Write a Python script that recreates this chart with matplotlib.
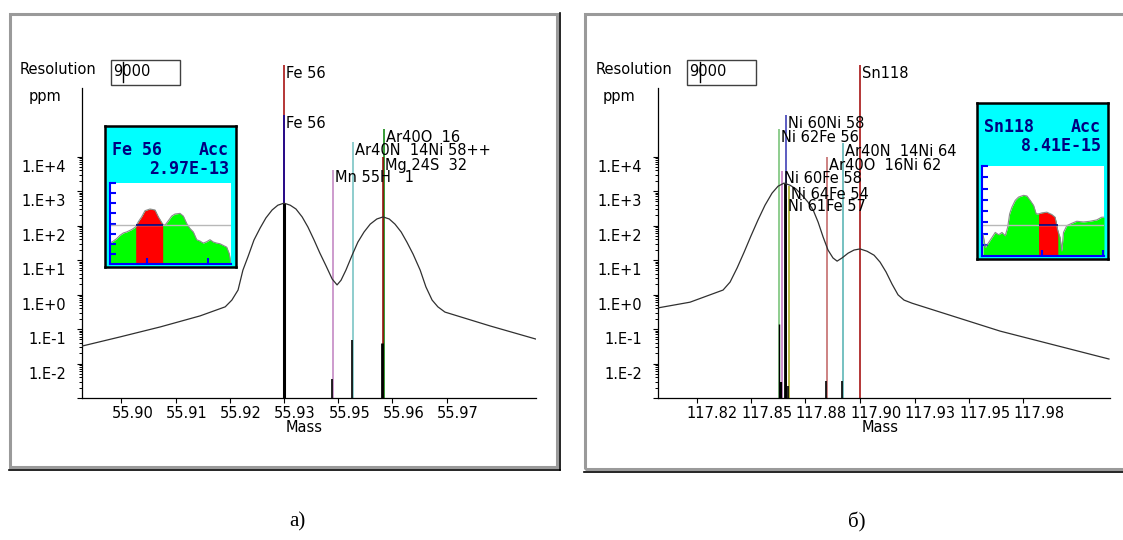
import matplotlib
matplotlib.use("Agg")
import matplotlib.pyplot as plt
from matplotlib.patches import Rectangle
from matplotlib.lines import Line2D
from matplotlib.transforms import ScaledTranslation
from matplotlib.ticker import FixedLocator, NullFormatter
import numpy as np

plt.rcParams['font.family'] = 'DejaVu Sans'
plt.rcParams['font.size'] = 10.5

W, H = 1123, 540

# ---------------- panel a) : Fe 56 ----------------
fe_mass = [55.8892, 55.8978, 55.9069, 55.9159, 55.9216, 55.9231, 55.9245, 55.9256, 55.9268,
           55.9281, 55.9295, 55.9308, 55.9322, 55.9335, 55.9349, 55.9363, 55.9376, 55.9390,
           55.9403, 55.9417, 55.9430, 55.9444, 55.9458, 55.9469, 55.9478, 55.9489, 55.9503,
           55.9516, 55.9530, 55.9544, 55.9559, 55.9573, 55.9587, 55.9600, 55.9614, 55.9627,
           55.9641, 55.9657, 55.9670, 55.9684, 55.9697, 55.9713, 55.9815, 55.9919]
fe_ppm = [0.032, 0.059, 0.115, 0.24, 0.44, 0.69, 1.35, 5.1, 13, 38, 85, 166, 282, 389, 447,
          389, 302, 178, 91, 38, 16, 6.8, 2.8, 1.9, 2.6, 5.1, 13.8, 33, 65, 110, 155, 178,
          155, 110, 65, 33, 14.8, 5.1, 1.66, 0.69, 0.44, 0.31, 0.123, 0.051]
fe_xlim = (55.8892, 55.9919)
fe_ticks = [55.8981, 55.9104, 55.9226, 55.9349, 55.9472, 55.9594, 55.9717]
fe_ticklabels = ['55.90', '55.91', '55.92', '55.93', '55.95', '55.96', '55.97']

fe_line_mass = [55.9349, 55.9349, 55.9460, 55.9504, 55.9575, 55.9573]
fe_line_top = [4.5e6, 1.6e5, 4100, 26000, 63000, 9700]
fe_line_labels = ['Fe 56', 'Fe 56', 'Mn 55H   1', 'Ar40N  14Ni 58++', 'Ar40O  16', 'Mg 24S  32']
fe_line_colors = ['#a00000', '#0000a0', '#c080c0', '#70c0c0', '#008000', '#900000']

fe_stick_mass = [55.9349, 55.9457, 55.9502, 55.9571]
fe_stick_ppm = [447, 0.0035, 0.048, 0.039]
fe_stick_lw = [2.2, 1.2, 1.2, 2.0]

fe_prof_x = [0, 3.3, 6.7, 10, 13.3, 16.7, 21.7, 25.7, 28.3, 31.7, 35, 40, 45, 48.3, 52.7, 55,
             58.3, 61.7, 65, 70, 73.3, 76.7, 80, 83.3, 86.7, 90, 93.3, 96.7, 100, 103.3,
             106.7, 110, 113.3, 116.7, 119.3, 121]
fe_prof_y = [25.8, 28.3, 31.3, 35.4, 38.3, 39.6, 42.5, 45.8, 52.1, 58.3, 65.8, 67.9, 66.7,
             58.3, 49.2, 47.9, 53.3, 59.2, 61.7, 62.5, 59.2, 50, 43.8, 39.6, 30, 28.3, 25.8,
             27.5, 30, 27.1, 25.8, 25, 22.9, 20.8, 12.5, 0]
fe_acc = (25.7, 52.7)
fe_base = 48.75
fe_title, fe_value = 'Fe 56', '2.97E-13'

# ---------------- panel б) : Sn118 ----------------
sn_mass = [117.8038, 117.8193, 117.8353, 117.8387, 117.8421, 117.8455, 117.8488, 117.8522,
           117.8556, 117.8590, 117.8619, 117.8648, 117.8677, 117.8706, 117.8735, 117.8764,
           117.8789, 117.8813, 117.8837, 117.8861, 117.8885, 117.8905, 117.8929, 117.8958,
           117.8987, 117.9016, 117.9050, 117.9084, 117.9113, 117.9142, 117.9171, 117.9200,
           117.9229, 117.9268, 117.9694, 118.0221]
sn_ppm = [0.41, 0.60, 1.35, 2.3, 5.9, 17, 50, 145, 389, 870, 1380, 1700, 1480, 1150, 760,
          480, 282, 126, 47, 19.5, 11.5, 9.3, 11.5, 15.8, 19.5, 21, 18, 13.8, 8.7, 4.5, 2.0,
          0.98, 0.69, 0.56, 0.087, 0.0135]
sn_xlim = (117.8038, 118.0226)
sn_ticks = [117.8225, 117.8489, 117.8752, 117.9016, 117.9280, 117.9544, 117.9807]
sn_ticklabels = ['117.82', '117.85', '117.88', '117.90', '117.93', '117.95', '117.98']

sn_line_mass = [117.9016, 117.8656, 117.8625, 117.8935, 117.8855, 117.8640, 117.8674, 117.8659]
sn_line_top = [4.5e6, 1.6e5, 6.3e4, 2.45e4, 9.7e3, 3.9e3, 1.4e3, 590]
sn_line_labels = ['Sn118', 'Ni 60Ni 58', 'Ni 62Fe 56', 'Ar40N  14Ni 64', 'Ar40O  16Ni 62',
                  'Ni 60Fe 58', 'Ni 64Fe 54', 'Ni 61Fe 57']
sn_line_colors = ['#a00000', '#3030b0', '#70c070', '#50b0b0', '#c06060', '#c070c0',
                  '#a0a010', '#000000']

sn_stick_mass = [117.8624, 117.8632, 117.8653, 117.8668, 117.8850, 117.8929]
sn_stick_ppm = [0.14, 0.0029, 1700, 0.0022, 0.0031, 0.0031]
sn_stick_lw = [1.0, 1.6, 2.0, 1.2, 1.2, 1.2]

sn_prof_x = [1, 3.3, 6.7, 10, 13.3, 16.7, 20, 23.3, 25.7, 27.7, 30, 33.3, 36.7, 41.7, 45,
             48.3, 51.7, 54.3, 56.7, 60, 65, 70, 73.3, 76, 78.3, 80, 81.7, 85, 90, 95,
             101.7, 108.3, 115, 120, 122.3]
sn_prof_y = [24.3, 9.4, 15, 20.6, 26.2, 23.6, 26.2, 22.5, 31.8, 46.8, 54.3, 61.8, 65.5,
             67.4, 66.7, 61.8, 56.2, 46.8, 46.8, 47.9, 48.7, 46.1, 43.1, 28.1, 20.6, 5.6,
             26.2, 33.7, 36.3, 38.6, 37.8, 38.6, 40.1, 43.1, 43.1]
sn_acc = (56.7, 76)
sn_base = 34.8
sn_title, sn_value = 'Sn118', '8.41E-15'

# shared log axis
YMIN, YMAX = 1e-3, 10 ** 6.8
y_major = [1e-3, 1e-2, 1e-1, 1e0, 1e1, 1e2, 1e3, 1e4]
y_labels = ['', '1.E-2', '1.E-1', '1.E+0', '1.E+1', '1.E+2', '1.E+3', '1.E+4']
y_minor = [s * 10.0 ** k for k in range(-3, 4) for s in range(2, 10)]


def px_rect(x0, y0, x1, y1):
    return [x0 / W, 1 - y1 / H, (x1 - x0) / W, (y1 - y0) / H]


fig = plt.figure(figsize=(W / 100, H / 100), dpi=100)


def fig_line(xs, ys, **kw):
    fig.add_artist(Line2D([x / W for x in xs], [1 - y / H for y in ys],
                          transform=fig.transFigure, **kw))


def panel_frame(x0, y0, x1, y1):
    fig.add_artist(Rectangle((x0 / W, 1 - y1 / H), (x1 - x0) / W, (y1 - y0) / H,
                             transform=fig.transFigure, fill=False, ec='#9a9a9a', lw=2.2))
    fig_line([x0 - 1, x1 + 3], [y1 + 2.5, y1 + 2.5], color='black', lw=1.2)
    fig_line([x1 + 2.5, x1 + 2.5], [y0 - 1, y1 + 3], color='black', lw=1.2)


def header(x, res_box, cursor_x):
    fig.text(x / W, 1 - 70 / H, 'Resolution', va='center', ha='left')
    bx0, bx1 = res_box
    fig.add_artist(Rectangle((bx0 / W, 1 - 85 / H), (bx1 - bx0) / W, 25 / H,
                             transform=fig.transFigure, fc='white', ec='#404040', lw=1))
    fig.text((bx0 + 2) / W, 1 - 71 / H, '9000', va='center', ha='left')
    fig_line([cursor_x, cursor_x], [62, 82], color='black', lw=1)


def draw_panel(ax_px, mass, ppm, xlim, ticks, ticklabels, line_mass, line_top, line_labels,
               line_colors, stick_mass, stick_ppm, stick_lw, mass_x):
    ax = fig.add_axes(px_rect(*ax_px))
    ax.set_facecolor('none')
    ax.set_yscale('log')
    ax.set_xlim(*xlim)
    ax.set_ylim(YMIN, YMAX)

    for m, top, lab, c in zip(line_mass, line_top, line_labels, line_colors):
        ax.vlines(m, YMIN, top, colors=c, lw=1.1, zorder=2)
        ax.annotate(lab, (m, top), xytext=(2, -8), textcoords='offset pixels',
                    va='center', ha='left', fontsize=10.5, zorder=5)
    ax.vlines(stick_mass, YMIN, stick_ppm, colors='black', lw=stick_lw, zorder=3)
    ax.plot(mass, ppm, color='#303030', lw=0.9, zorder=4)

    for side in ['top', 'right']:
        ax.spines[side].set_visible(False)
    ax.spines['left'].set_bounds(YMIN, 1e6)
    ax.spines['left'].set_linewidth(0.9)
    ax.spines['bottom'].set_linewidth(0.9)

    ax.yaxis.set_major_locator(FixedLocator(y_major))
    ax.yaxis.set_minor_locator(FixedLocator(y_minor))
    ax.yaxis.set_minor_formatter(NullFormatter())
    ax.set_yticklabels(y_labels)
    ax.set_xticks(ticks)
    ax.set_xticklabels(ticklabels)
    ax.tick_params(axis='y', which='major', direction='out', length=3.8, width=0.8, pad=7.5)
    ax.tick_params(axis='y', which='minor', direction='out', length=2.2, width=0.7)
    ax.tick_params(axis='x', which='major', direction='out', length=3.6, width=0.8, pad=2.5)

    off_y = ScaledTranslation(0, -0.09, fig.dpi_scale_trans)
    for t in ax.get_yticklabels():
        t.set_transform(t.get_transform() + off_y)
    off_x = ScaledTranslation(-0.10, 0, fig.dpi_scale_trans)
    for t in ax.get_xticklabels():
        t.set_horizontalalignment('left')
        t.set_transform(t.get_transform() + off_x)

    ax.set_xlabel('Mass')
    ax.xaxis.label.set_va('center')
    x0, y0, x1, y1 = ax_px
    ax.xaxis.set_label_coords((mass_x - x0) / (x1 - x0), (y1 - 428) / (y1 - y0))
    return ax


def draw_inset(box_px, plot_px, title, value, px, py, acc, base, xmax, marks):
    bx0, by0, bx1, by1 = box_px
    outer = fig.add_axes(px_rect(*box_px), zorder=3)
    outer.set_facecolor('#00ffff')
    outer.set_xticks([])
    outer.set_yticks([])
    for s in outer.spines.values():
        s.set_linewidth(1.8)
        s.set_color('black')
    kw = dict(family='DejaVu Sans Mono', weight='bold', color='#000080', fontsize=12,
              transform=outer.transAxes, va='center')
    outer.text(7 / (bx1 - bx0), (by1 - (by0 + 24)) / (by1 - by0), title, ha='left', **kw)
    outer.text(1 - 7 / (bx1 - bx0), (by1 - (by0 + 24)) / (by1 - by0), 'Acc', ha='right', **kw)
    outer.text(1 - 7 / (bx1 - bx0), (by1 - (by0 + 43)) / (by1 - by0), value, ha='right', **kw)

    inner = fig.add_axes(px_rect(*plot_px), zorder=4)
    px = np.array(px)
    py = np.array(py)
    inner.fill_between(px, py, color='#00ff00', lw=0)
    sel = (px >= acc[0]) & (px <= acc[1])
    inner.fill_between(px, py, where=sel, color='#ff0000', lw=0)
    inner.plot(px, py, color='#8a8a8a', lw=0.8)
    inner.axhline(base, color='#b8b8b8', lw=1)
    inner.hlines(base, acc[0], acc[1], color='#000080', lw=1.2)
    inner.set_xlim(0, xmax)
    inner.set_ylim(0, 100)
    for side in ['top', 'right']:
        inner.spines[side].set_visible(False)
    for side in ['left', 'bottom']:
        inner.spines[side].set_color('#0000ff')
        inner.spines[side].set_linewidth(1.5)
    inner.set_yticks([12.5, 25, 37.5, 50, 62.5, 75, 87.5, 100])
    inner.set_xticks(marks)
    inner.tick_params(direction='in', length=4, width=1.5, color='#0000ff',
                      labelleft=False, labelbottom=False)


# panel frames and headers
panel_frame(10, 14, 557, 467)
panel_frame(585, 14, 1140, 469)
header(20, (111, 180), 122.5)
header(596, (687, 756), 699.5)
fig.text(29 / W, 1 - 97 / H, 'ppm', va='center', ha='left')
fig.text(603 / W, 1 - 97 / H, 'ppm', va='center', ha='left')

draw_panel((82, 60, 536, 398), fe_mass, fe_ppm, fe_xlim, fe_ticks, fe_ticklabels,
           fe_line_mass, fe_line_top, fe_line_labels, fe_line_colors,
           fe_stick_mass, fe_stick_ppm, fe_stick_lw, 304)
draw_panel((658, 60, 1110, 398), sn_mass, sn_ppm, sn_xlim, sn_ticks, sn_ticklabels,
           sn_line_mass, sn_line_top, sn_line_labels, sn_line_colors,
           sn_stick_mass, sn_stick_ppm, sn_stick_lw, 880)

draw_inset((105, 126, 236, 267), (110, 183, 231, 264), fe_title, fe_value,
           fe_prof_x, fe_prof_y, fe_acc, fe_base, 121, [36.7, 97.7])
draw_inset((977, 103, 1108, 259), (982, 166, 1104, 256), sn_title, sn_value,
           sn_prof_x, sn_prof_y, sn_acc, sn_base, 122.3, [60, 121])

fig.text(297 / W, 1 - 522 / H, 'а)', family='Liberation Serif', fontsize=15,
         ha='center', va='center')
fig.text(857 / W, 1 - 522 / H, 'б)', family='Liberation Serif', fontsize=15,
         ha='center', va='center')

fig.savefig('out.png', dpi=100)
